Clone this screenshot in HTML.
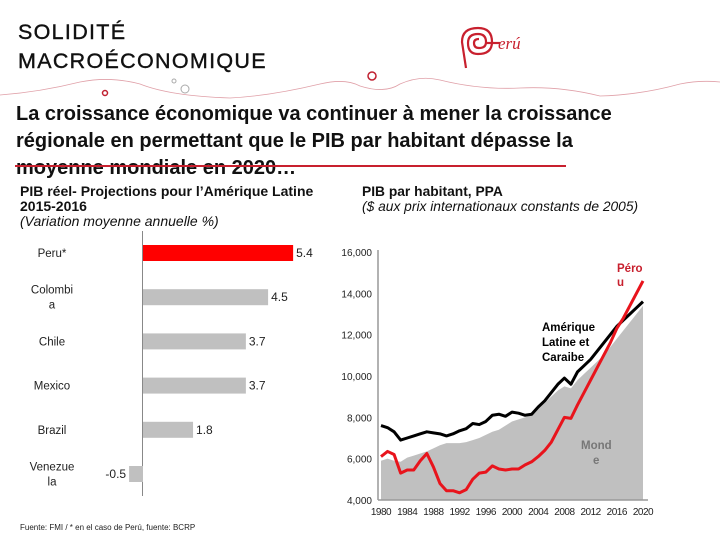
<!DOCTYPE html>
<html><head><meta charset="utf-8"><style>
body{margin:0;background:#fff;}
#root{position:relative;width:720px;height:540px;overflow:hidden;font-family:"Liberation Sans",sans-serif;}
.t{position:absolute;white-space:nowrap;}
</style></head><body>
<div id="root">
<div class="t" style="left:18px;top:18px;font-size:21.5px;line-height:29px;color:#111;letter-spacing:1.3px;-webkit-text-stroke:0.4px #111">SOLIDITÉ<br>MACROÉCONOMIQUE</div>
<div class="t" style="left:16px;top:101px;font-size:20px;line-height:27px;font-weight:bold;color:#111">La croissance économique va continuer à mener la croissance<br>régionale en permettant que le PIB par habitant dépasse la<br>moyenne mondiale en 2020…</div>
<div class="t" style="left:20px;top:184px;font-size:14px;line-height:15px;color:#111"><b>PIB réel- Projections pour l’Amérique Latine<br>2015-2016</b><br><i>(Variation moyenne annuelle %)</i></div>
<div class="t" style="left:362px;top:184px;font-size:13.8px;line-height:15px;color:#111"><b>PIB par habitant, PPA</b><br><i>($ aux prix internationaux constants de 2005)</i></div>
<div class="t" style="left:20px;top:523px;font-size:8px;color:#222">Fuente: FMI / * en el caso de Perú, fuente: BCRP</div>
<svg id="deco" width="720" height="540" style="position:absolute;left:0;top:0">
<path d="M0 95 Q40 92 80 82 Q110 76 140 84 Q170 96 230 98 Q270 96 320 84 Q345 78 360 86 Q385 94 400 84 Q420 75 440 80 Q480 90 520 88 Q560 86 600 96 Q640 95 680 84 Q700 80 720 82" fill="none" stroke="#e0a0a8" stroke-width="0.8"/>
<circle cx="372" cy="76" r="4" fill="none" stroke="#c02030" stroke-width="1.5"/>
<circle cx="105" cy="93" r="2.5" fill="none" stroke="#c02030" stroke-width="1.5"/>
<circle cx="174" cy="81" r="2" fill="none" stroke="#aaa" stroke-width="1"/>
<circle cx="185" cy="89" r="4" fill="none" stroke="#aaa" stroke-width="1"/>
<g fill="none" stroke="#c8202e" stroke-width="2.2">
<path d="M466 68 L462 42 Q462 28 478 28 Q492 28 492 42 Q492 54 478 54 Q468 54 468 43 Q468 34 478 34 Q486 34 486 42 Q486 48 479 48 Q474 48 474 43 Q474 39 479 39"/>
<line x1="486" y1="43" x2="500" y2="43"/>
</g>
<text x="498" y="49" fill="#c8202e" font-size="17" font-family="Liberation Serif" font-style="italic">erú</text>
<line x1="15" y1="166" x2="566" y2="166" stroke="#c8202e" stroke-width="2"/>
</svg>
<svg id="bar" width="360" height="540" style="position:absolute;left:0;top:0"></svg>
<svg id="line" width="720" height="540" style="position:absolute;left:0;top:0"></svg>
</div>
<script>
const barCountries=["Peru*","Colombia","Chile","Mexico","Brazil","Venezuela"];
const barLabelLines=[["Peru*"],["Colombi","a"],["Chile"],["Mexico"],["Brazil"],["Venezue","la"]];
const barValues=[5.4,4.5,3.7,3.7,1.8,-0.5];
const barColors=["#ff0000","#c0c0c0","#c0c0c0","#c0c0c0","#c0c0c0","#c0c0c0"];

const years=[];for(let y=1980;y<=2020;y++)years.push(y);
const latinValues=[7600,7500,7300,6900,7000,7100,7200,7300,7250,7200,7100,7200,7350,7450,7700,7650,7800,8100,8150,8050,8250,8200,8100,8150,8500,8800,9200,9600,9900,9600,10200,10500,10800,11200,11600,12000,12400,12700,13000,13300,13600];
const peruValues=[6100,6350,6200,5300,5450,5450,5900,6250,5600,4800,4450,4450,4350,4500,5000,5300,5350,5650,5500,5450,5500,5500,5700,5850,6100,6400,6800,7400,8000,7950,8600,9200,9800,10400,11000,11600,12300,12800,13400,14000,14600];
const worldValues=[5900,6000,5900,5850,6050,6150,6250,6350,6500,6650,6750,6750,6750,6800,6900,7000,7150,7300,7400,7600,7800,7900,8000,8100,8400,8700,9000,9300,9500,9400,9800,10100,10400,10700,11000,11400,11800,12200,12600,13000,13400];
const yTicks=[4000,6000,8000,10000,12000,14000,16000];
const yTickLabels=["4,000","6,000","8,000","10,000","12,000","14,000","16,000"];
const xTicks=[1980,1984,1988,1992,1996,2000,2004,2008,2012,2016,2020];

const NS="http://www.w3.org/2000/svg";
function mk(p,tag,attrs,txt){const e=document.createElementNS(NS,tag);for(const k in attrs)e.setAttribute(k,attrs[k]);if(txt!==undefined)e.textContent=txt;p.appendChild(e);return e;}

const bs=document.getElementById('bar');
const bx=v=>143+v*27.8;
const by=i=>253+i*44.2;
let ax=mk(bs,'line',{x1:142.5,y1:231,x2:142.5,y2:496,stroke:'#888','stroke-width':1});


barValues.forEach((v,i)=>{
  const x0=Math.min(bx(0),bx(v)),w=Math.abs(bx(v)-bx(0));
  const r=mk(bs,'rect',{x:x0,y:by(i)-8,width:w,height:16,fill:barColors[i]});
  
  
  const tx=v>=0?bx(v)+3:bx(v)-3;
  const t=mk(bs,'text',{x:tx,y:by(i)+4,'font-size':12,fill:'#222','text-anchor':v>=0?'start':'end'},v.toFixed(1));
  
  
  const lines=barLabelLines[i];
  lines.forEach((s,j)=>{
    const cy=by(i)+4+(j-(lines.length-1)/2)*15;
    const l=mk(bs,'text',{x:52,y:cy,'font-size':11.5,fill:'#222','text-anchor':'middle'},s);
    
    
  });
});

const ls=document.getElementById('line');
const X=y=>381+(y-1980)*(643-381)/40;
const Y=v=>500-(v-4000)*248/12000;
let area='M'+X(1980)+' '+Y(4000);
years.forEach((y,i)=>area+=' L'+X(y)+' '+Y(worldValues[i]));
area+=' L'+X(2020)+' '+Y(4000)+' Z';
const wa=mk(ls,'path',{d:area,fill:'#c0c0c0'});


function poly(vals,col,name){
  const p=mk(ls,'polyline',{points:years.map((y,i)=>X(y)+','+Y(vals[i])).join(' '),fill:'none',stroke:col,'stroke-width':3,'stroke-linejoin':'round'});
  
  
}
poly(latinValues,'#000','latin-america-line');
poly(peruValues,'#e8141c','peru-line');
const ya=mk(ls,'line',{x1:378,y1:250,x2:378,y2:500,stroke:'#999','stroke-width':1.5});


const xa=mk(ls,'line',{x1:378,y1:500,x2:648,y2:500,stroke:'#999','stroke-width':1.5});


yTicks.forEach((v,i)=>{
  const t=mk(ls,'text',{x:372,y:Y(v)+4,'font-size':10,fill:'#222','text-anchor':'end'},yTickLabels[i]);
  
  
});
xTicks.forEach(y=>{
  const t=mk(ls,'text',{x:X(y),y:515,'font-size':10,fill:'#222','text-anchor':'middle','letter-spacing':-0.5},String(y));
  
  
});
function lab(txt,x,y,col,name){
  const t=mk(ls,'text',{x:x,y:y,'font-size':11.5,'font-weight':'bold',fill:col},txt);
  
  
}
lab('Péro',617,272,'#c8202e','peru-label');lab('u',617,286,'#c8202e','peru-label-2');
lab('Amérique',542,331,'#000','latin-label');lab('Latine et',542,346,'#000','latin-label-2');lab('Caraibe',542,361,'#000','latin-label-3');
lab('Mond',581,449,'#777','world-label');lab('e',593,464,'#777','world-label-2');
</script>
</body></html>
